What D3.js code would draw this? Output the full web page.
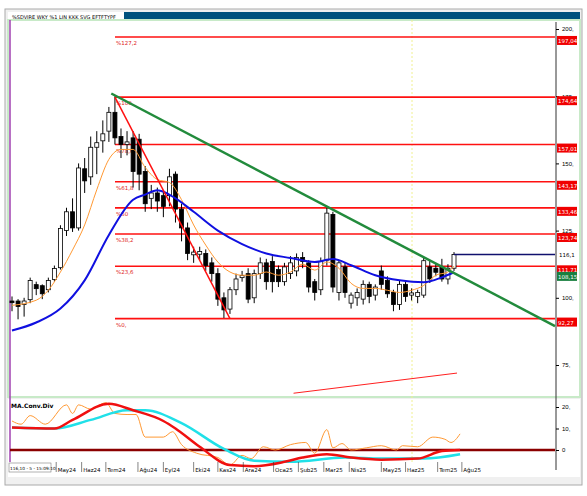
<!DOCTYPE html>
<html><head><meta charset="utf-8">
<script src="https://cdn.jsdelivr.net/npm/d3@7"></script>
<style>body{margin:0;background:#fff}svg{display:block;font-family:"DejaVu Sans",sans-serif}</style>
</head><body><svg id="c" width="587" height="496"></svg>
<script>
// OHLC weekly candles: [open, close, high, low]
const candles = [
[98.8,98.2,100.5,95],[98.8,96.8,99.5,92],[97.5,98.8,100,93],[99.3,106.4,107.5,98],[104.9,103.4,106,101],
[104.5,101.5,105,99.5],[103,106.4,107.5,102],[106.8,110.9,112,106],[111.2,125.8,127,110.5],[125,132,133.5,123],
[132,126,137,124.5],[126,148.3,150,125],[148,143.5,152,139],[145,156,160,142],[156,157.7,162,146],
[158.4,161,166,154],[162,169,171,158],[169,159.5,175,157],[160,157,163,152],[157,158,162,153],
[159.5,147,162,141],[159,146,161,140],[147,135,149,132],[137,139,142,133],[139,136,141,132],
[138,134,140,130],[138,145,148,134],[146,133,147,128],[133,126,135,121],[126,116.5,128,114],
[116,117,119,113],[116.2,117.2,119,114],[116.5,112,118,110],[113,109,115,106],[109,99.5,111,97],
[100,95.5,102,92.5],[95.8,103,104,94],[103,107,109,101],[107.5,108.3,110,106],[109,99.5,111,98],
[100,109,110.5,98],[109,113,115,107],[113,106,114.5,103],[113.5,106,115.5,102],[110.5,106,112,104],
[106,111.5,113,104.5],[109,113,115.5,107],[110,115,116.5,108],[115,113.5,117,111],[113,104,114,102],
[106,102,107,99],[103,113.5,115,101],[114,131.5,133.5,112],[131,104,132,102],[102,113,114,99],
[111.5,102,113,100],[98,101,102,96],[100,102,103.5,97],[99.5,105,106.5,97.5],[105,100.5,106,98],
[101,104,105,99],[110,105,112,103],[106.5,101.5,108,100],[102,97.5,103,95],[97.5,105,106.5,95.5],
[105,100.5,106,98.5],[101,101.8,103.5,99],[100.5,102,103,98],[101,113.8,115,100],[111.5,107,114,105.5],
[111,109.5,113,108],[111.5,107,114.5,106],[107,111,112.5,105],[111,116.1,117,110]];
// moving averages: [index, price]
const maLong = [[0,87.8],[4,90.8],[8,96],[12,106.5],[16,123.4],[20,136.5],[22,138.4],[24,140],[27,137],[30,132],[34,125],[38,120],[42,116.5],[46,114.8],[50,113.3],[53,114.4],[56,112.1],[60,108.4],[64,106.5],[68,105.8],[71,107.6],[73,109.5]];
const maShort = [[0,97.2],[4,99.1],[6,102.8],[8,109.6],[10,117.8],[12,127.1],[14,140.2],[16,151.5],[18,155.2],[20,155.2],[22,148.5],[24,144],[26,142.9],[28,136.5],[30,127.1],[32,119.6],[34,113.3],[36,109.6],[38,108.4],[40,108.4],[42,109.6],[44,108.4],[46,109.6],[48,112.5],[50,110.3],[52,113.3],[54,111],[56,105.4],[58,103.5],[60,103.5],[62,102.8],[64,102],[66,102.8],[68,104.6],[70,108.4],[72,109.6],[73,111.8]];
const fibLevels = [197.04,174.64,157.01,143.17,133.46,123.74,111.71,92.27];
const fibNames = ["%127,2","%100","%78,6","%61,8","%50","%38,2","%23,6","%0,"];
const fibLabels = ["197,04","174,64","157,01","143,17","133,46","123,74","111,71","92,27"];
const priceTicks = [200,175,150,125,100,75];
const extraLine = [[46.5,64.5],[73.5,72]];
const macdRed = [[0,10.5],[7,10],[10,14],[16,21.5],[20,18.5],[25,13.5],[27,10],[31,1.5],[36,-7],[40,-7.5],[45,-5.5],[48,-3.5],[52,-2],[56,-3.5],[61,-4.5],[67,-4],[71,-0.5],[74,0]];
const macdCyan = [[0,10.5],[7,10],[13,14],[19,18.5],[22,18.5],[28,12.5],[35,0.5],[40,-5],[46,-5.5],[55,-3.5],[61,-4],[68,-4],[74,-2]];
const macdOrange = [[0,13.5],[1.5,12],[3,16],[5.5,12],[9,21],[10,17],[11,21],[13,19],[15.5,22],[17,17],[19,16.5],[20.5,16.5],[22,6],[25,6],[26.5,8.5],[28,2.5],[30.5,-1.5],[34,-3.5],[36,-7],[38,-2.5],[39.5,-4],[41.5,1.5],[43.5,0],[46,2.5],[48.5,3.5],[50,-1.5],[52,9.5],[53,1],[54.5,3],[56,0],[58.5,1],[61,2],[63.5,0],[64.5,2],[67,1.5],[69.5,6],[71.5,5],[72.5,3.5],[74,7.5]];
const macdTicks = [20,10,0];
const months = [["May24",7.3],["Haz24",11.5],["Tem24",15.5],["Ağu24",20.8],["Eyl24",25],["Eki24",30],["Kas24",34],["Ara24",38.2],["Oca25",43.2],["Şub25",47.3],["Mar25",51.5],["Nis25",55.7],["May25",61],["Haz25",65],["Tem25",70.3],["Ağu25",74.3]];

const svg = d3.select("#c");
const x = d3.scaleLinear().domain([0,73]).range([12,454]);
const y = d3.scaleLinear().domain([75,200]).range([365,29]);
const ym = d3.scaleLinear().domain([-10,20]).range([471.5,407]);
const L=10, R=555;

// frame
svg.append("rect").attr("x",5).attr("y",9).attr("width",577).attr("height",476).attr("fill","#f0f0f0").attr("stroke","#aaa");
svg.append("rect").attr("x",8).attr("y",12).attr("width",572).attr("height",8).attr("fill","#fff");
svg.append("rect").attr("x",124).attr("y",12).attr("width",456).attr("height",8).attr("fill","#00527e");
svg.append("text").attr("x",12).attr("y",19).attr("font-size",5).text("%SDVIRE   WKY   %1   LIN  KKK  SVG  EFTFTYPF");
svg.append("rect").attr("x",8).attr("y",20).attr("width",572).attr("height",377).attr("fill","#fff").attr("stroke","#c8eac8").attr("stroke-width",2);
svg.append("rect").attr("x",8).attr("y",399).attr("width",572).attr("height",62).attr("fill","#fff");
svg.append("rect").attr("x",8).attr("y",461).attr("width",572).attr("height",16).attr("fill","#fff");
svg.append("line").attr("x1",10).attr("x2",10).attr("y1",20).attr("y2",462).attr("stroke","#a040b0").attr("stroke-width",1.5);
svg.append("line").attr("x1",412).attr("x2",412).attr("y1",20).attr("y2",462).attr("stroke","#f0f090").attr("stroke-dasharray","2,2");

// right axis
svg.append("line").attr("x1",R+1).attr("x2",R+1).attr("y1",22).attr("y2",470).attr("stroke","#333");
const ya = svg.append("g").attr("transform",`translate(${R+1},0)`).call(d3.axisRight(y).tickValues(priceTicks).tickSize(3).tickFormat(d=>d+","));
ya.select(".domain").remove(); ya.selectAll("text").attr("font-size",6);
const ma = svg.append("g").attr("transform",`translate(${R+1},0)`).call(d3.axisRight(ym).tickValues(macdTicks).tickSize(3).tickFormat(d=>d===0?"0":d+","));
ma.select(".domain").remove(); ma.selectAll("text").attr("font-size",6);

// fib
fibLevels.forEach((v,i)=>{
  svg.append("line").attr("x1",115).attr("x2",R).attr("y1",y(v)).attr("y2",y(v)).attr("stroke","#ff1010").attr("stroke-width",1.6);
  svg.append("text").attr("x",116).attr("y",y(v)+8).attr("font-size",5.5).attr("fill","#e02020").text(fibNames[i]);
  svg.append("rect").attr("x",R+2).attr("y",y(v)-1).attr("width",20).attr("height",9).attr("fill","#f00000");
  svg.append("text").attr("x",R+3).attr("y",y(v)+6).attr("font-size",5.5).attr("fill","#fff").text(fibLabels[i]);
});
svg.append("rect").attr("x",R+2).attr("y",y(108.15)-4).attr("width",20).attr("height",9).attr("fill","#1a8040");
svg.append("text").attr("x",R+3).attr("y",y(108.15)+3).attr("font-size",5.5).attr("fill","#fff").text("108,15");
svg.append("text").attr("x",R+4).attr("y",y(116.1)+2).attr("font-size",5.5).text("116,1");

// extra red line
const ln = d3.line().x(d=>x(d[0])).y(d=>y(d[1]));
svg.append("path").attr("d",ln(extraLine)).attr("stroke","#ff2020").attr("fill","none");

// candles
const cw=4;
candles.forEach((c,i)=>{
  const up=c[1]>=c[0];
  svg.append("line").attr("x1",x(i)).attr("x2",x(i)).attr("y1",y(c[2])).attr("y2",y(c[3])).attr("stroke","#000");
  svg.append("rect").attr("x",x(i)-cw/2).attr("y",y(Math.max(c[0],c[1]))).attr("width",cw)
    .attr("height",Math.max(1,Math.abs(y(c[0])-y(c[1])))).attr("fill",up?"#fff":"#000").attr("stroke","#000").attr("stroke-width",0.8);
});
const lc = d3.line().curve(d3.curveMonotoneX).x(d=>x(d[0])).y(d=>y(d[1]));
svg.append("path").attr("d",lc(maShort)).attr("stroke","#ff9933").attr("fill","none").attr("stroke-width",1);
svg.append("path").attr("d",lc(maLong)).attr("stroke","#1010e0").attr("fill","none").attr("stroke-width",2);
// last price line
svg.append("line").attr("x1",x(73)).attr("x2",R).attr("y1",y(116.1)).attr("y2",y(116.1)).attr("stroke","#10106e").attr("stroke-width",1.5);
// red diagonal & green trend
svg.append("path").attr("d",ln([[17,174.64],[36,92.27]])).attr("stroke","#ff1010").attr("stroke-width",1.5).attr("fill","none");
svg.append("line").attr("x1",x(16.4)).attr("x2",R).attr("y1",y(176)).attr("y2",y(89.5)).attr("stroke","#228b3c").attr("stroke-width",2.5);

// MACD
svg.append("text").attr("x",11).attr("y",408).attr("font-size",6).attr("font-weight","bold").text("MA.Conv.Div");
svg.append("line").attr("x1",L).attr("x2",R).attr("y1",ym(0)).attr("y2",ym(0)).attr("stroke","#8b0000").attr("stroke-width",2.5);
const lm = d3.line().curve(d3.curveMonotoneX).x(d=>x(d[0])).y(d=>ym(d[1]));
svg.append("path").attr("d",lm(macdOrange)).attr("stroke","#ff9933").attr("fill","none");
svg.append("path").attr("d",lm(macdCyan)).attr("stroke","#20e0e8").attr("fill","none").attr("stroke-width",2.5);
svg.append("path").attr("d",lm(macdRed)).attr("stroke","#f01010").attr("fill","none").attr("stroke-width",2.5);

// date axis
svg.append("rect").attr("x",9).attr("y",463).attr("width",42).attr("height",9).attr("fill","#fff").attr("stroke","#666").attr("stroke-width",0.5);
svg.append("text").attr("x",10).attr("y",470).attr("font-size",4.3).text("116,10 - 5 - 15:09:10");
months.forEach(m=>{
  svg.append("line").attr("x1",x(m[1])).attr("x2",x(m[1])).attr("y1",462).attr("y2",472).attr("stroke","#333").attr("stroke-width",0.6);
  svg.append("text").attr("x",x(m[1])+1.5).attr("y",472).attr("font-size",5.5).text(m[0]);
});
</script></body></html>
